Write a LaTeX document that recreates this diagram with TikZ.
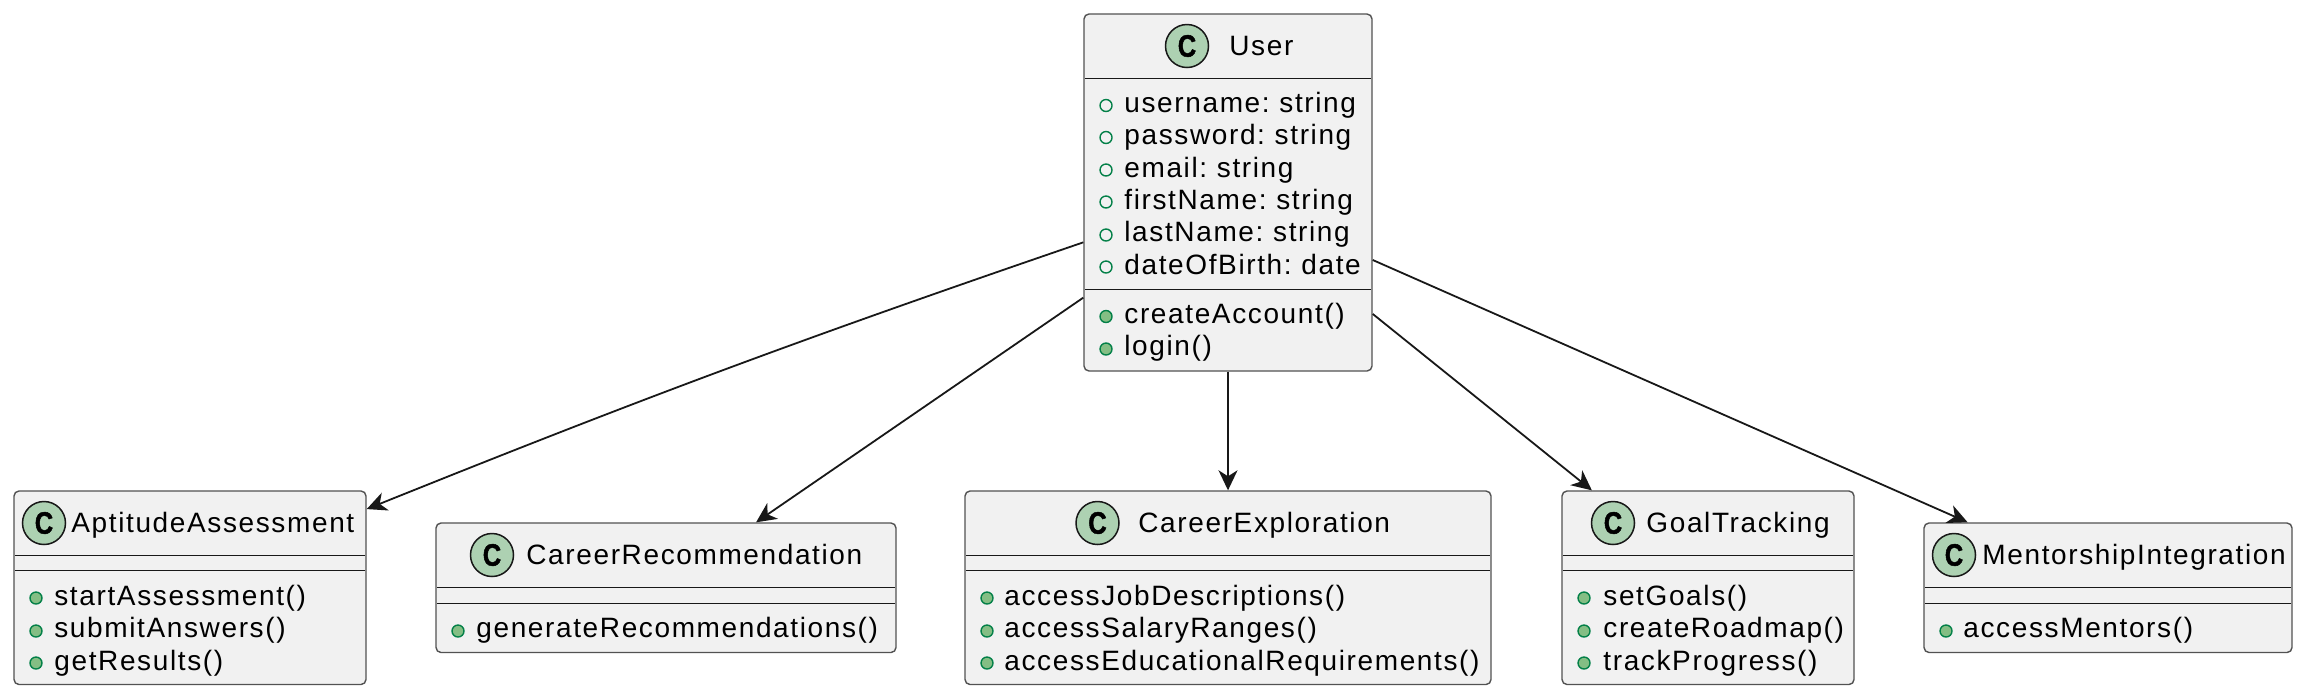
\documentclass[tikz,border=0pt]{standalone}
\usepackage{fontspec}
\setmainfont[LetterSpace=5.8,WordSpace=0.7]{Liberation Sans}
\newfontfamily\badgefont[BoldFeatures={FakeStretch=0.82,FakeBold=1.5}]{Liberation Sans}
\usetikzlibrary{arrows.meta}

\definecolor{boxfill}{HTML}{F1F1F1}
\definecolor{boxline}{HTML}{181818}
\definecolor{badgefill}{HTML}{ADD1B2}
\definecolor{memberline}{HTML}{038048}
\definecolor{memberfill}{HTML}{84BE84}

\begin{document}
\begin{tikzpicture}[x=0.5pt, y=-0.5pt,
  classbox/.style={rectangle, draw=boxline!75, fill=boxfill, rounded corners=2.5pt, line width=0.7pt, inner sep=0pt},
  badge/.style={circle, draw=boxline, fill=badgefill, line width=0.75pt, inner sep=0pt, minimum size=21.5pt, font=\fontsize{15.5}{15.5}\badgefont\bfseries},
  classname/.style={anchor=base west, inner sep=0pt, text=black, font=\fontsize{14}{16}\selectfont},
  member/.style={anchor=base west, inner sep=0pt, text=black, font=\fontsize{14}{16}\selectfont},
  openfield/.style={circle, draw=memberline, line width=0.7pt, inner sep=0pt, minimum size=6pt},
  method/.style={circle, draw=memberline, fill=memberfill, line width=0.7pt, inner sep=0pt, minimum size=6pt},
  divider/.style={draw=boxline, line width=0.5pt, shorten <=1pt, shorten >=1pt},
  assoc/.style={draw=boxline, line width=0.9pt, -{Stealth[length=10pt, width=9.5pt, inset=3pt]}}]

\useasboundingbox (0,0) rectangle (2306,698);

% User
\node[classbox, minimum width=144pt, minimum height=178.5pt] (user) at (1228,192.5) {};
\node[badge] (userbadge) at (1187,46) {C};
\node[classname] (username) at (1229,55) {User};
\draw[divider] (user.west |- 0,78) -- (user.east |- 0,78);
\draw[divider] (user.west |- 0,289.5) -- (user.east |- 0,289.5);

\node[openfield] (userfa) at (1106,105.5) {};
\node[openfield] (userfb) at (1106,137.5) {};
\node[openfield] (userfc) at (1106,170) {};
\node[openfield] (userfd) at (1106,202) {};
\node[openfield] (userfe) at (1106,235) {};
\node[openfield] (userff) at (1106,267) {};
\node[method] (userma) at (1106,316.5) {};
\node[method] (usermb) at (1106,349) {};
\node[member] (usertfa) at (1124,112) {username: string};
\node[member] (usertfb) at (1124,144.5) {password: string};
\node[member] (usertfc) at (1124,177) {email: string};
\node[member] (usertfd) at (1124,209) {firstName: string};
\node[member] (usertfe) at (1124,241.5) {lastName: string};
\node[member] (usertff) at (1124,274) {dateOfBirth: date};
\node[member] (usertma) at (1124,323) {createAccount()};
\node[member] (usertmb) at (1124,355.5) {login()};

% AptitudeAssessment
\node[classbox, minimum width=176pt, minimum height=96.75pt] (aptitude) at (190,587.75) {};
\node[badge] (aptitudebadge) at (44,523) {C};
\node[classname] (aptitudename) at (71,532) {AptitudeAssessment};
\draw[divider] (aptitude.west |- 0,555) -- (aptitude.east |- 0,555);
\draw[divider] (aptitude.west |- 0,570) -- (aptitude.east |- 0,570);
\node[method] (aptitudema) at (36,598) {};
\node[method] (aptitudemb) at (36,631) {};
\node[method] (aptitudemc) at (36,663) {};
\node[member] (aptitudetma) at (54,605) {startAssessment()};
\node[member] (aptitudetmb) at (54,637.5) {submitAnswers()};
\node[member] (aptitudetmc) at (54,670) {getResults()};

% CareerRecommendation
\node[classbox, minimum width=230pt, minimum height=64.75pt] (recommend) at (666,587.75) {};
\node[badge] (recommendbadge) at (492,555) {C};
\node[classname] (recommendname) at (526,564) {CareerRecommendation};
\draw[divider] (recommend.west |- 0,587) -- (recommend.east |- 0,587);
\draw[divider] (recommend.west |- 0,603) -- (recommend.east |- 0,603);
\node[method] (recommendma) at (458,631) {};
\node[member] (recommendtma) at (476,637.5) {generateRecommendations()};

% CareerExploration
\node[classbox, minimum width=263pt, minimum height=96.75pt] (explore) at (1228,587.75) {};
\node[badge] (explorebadge) at (1097.5,523) {C};
\node[classname] (explorename) at (1138,532) {CareerExploration};
\draw[divider] (explore.west |- 0,555) -- (explore.east |- 0,555);
\draw[divider] (explore.west |- 0,570) -- (explore.east |- 0,570);
\node[method] (explorema) at (987,598) {};
\node[method] (exploremb) at (987,631) {};
\node[method] (exploremc) at (987,663) {};
\node[member] (exploretma) at (1004,605) {accessJobDescriptions()};
\node[member] (exploretmb) at (1004,637.5) {accessSalaryRanges()};
\node[member] (exploretmc) at (1004,670) {accessEducationalRequirements()};

% GoalTracking
\node[classbox, minimum width=146pt, minimum height=96.75pt] (goal) at (1708,587.75) {};
\node[badge] (goalbadge) at (1613,523) {C};
\node[classname] (goalname) at (1646,532) {GoalTracking};
\draw[divider] (goal.west |- 0,555) -- (goal.east |- 0,555);
\draw[divider] (goal.west |- 0,570) -- (goal.east |- 0,570);
\node[method] (goalma) at (1584,598) {};
\node[method] (goalmb) at (1584,631) {};
\node[method] (goalmc) at (1584,663) {};
\node[member] (goaltma) at (1603,605) {setGoals()};
\node[member] (goaltmb) at (1603,637.5) {createRoadmap()};
\node[member] (goaltmc) at (1603,670) {trackProgress()};

% MentorshipIntegration
\node[classbox, minimum width=184pt, minimum height=64.75pt] (mentor) at (2108,587.75) {};
\node[badge] (mentorbadge) at (1954,555) {C};
\node[classname] (mentorname) at (1982,564) {MentorshipIntegration};
\draw[divider] (mentor.west |- 0,587) -- (mentor.east |- 0,587);
\draw[divider] (mentor.west |- 0,603) -- (mentor.east |- 0,603);
\node[method] (mentorma) at (1946,631) {};
\node[member] (mentortma) at (1963,637.5) {accessMentors()};

% Connectors
\draw[assoc] (user.199) to[bend right=1.5] (aptitude.24.85);
\draw[assoc] (user.216) -- (recommend.36.1);
\draw[assoc] (user.south) -- (explore.north);
\draw[assoc] (user.320.4) -- (goal.140.2);
\draw[assoc] (user.335.4) -- (mentor.155.6);
\end{tikzpicture}
\end{document}
